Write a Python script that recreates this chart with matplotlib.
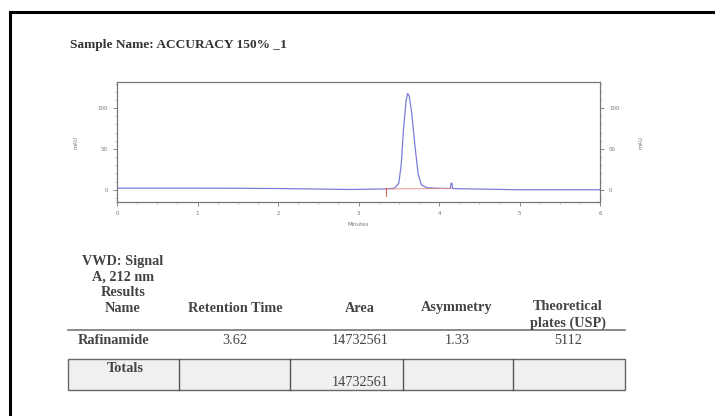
import matplotlib
matplotlib.use('Agg')
from matplotlib import pyplot as plt
from matplotlib.patches import Rectangle

# chromatogram trace (minutes, mAU)
times = [0.0, 0.5, 1.0, 1.5, 2.0, 2.4, 2.9, 3.2, 3.35, 3.45, 3.5, 3.53, 3.56, 3.59,
         3.61, 3.63, 3.66, 3.7, 3.74, 3.78, 3.85, 4.0, 4.14, 4.15, 4.16, 4.17, 4.4, 5.0, 6.0]
signal = [2.0, 2.0, 2.0, 1.8, 1.5, 1.0, 0.3, 0.8, 1.0, 2.0, 8.0, 30.0, 75.0, 108.0,
          118.0, 115.0, 95.0, 55.0, 20.0, 6.0, 2.5, 1.8, 1.5, 8.0, 8.0, 1.5, 1.0, 0.0, 0.0]
# integration baseline + start marker
base_t = [3.34, 4.15]
base_v = [1.0, 1.5]
marker_t = [3.34, 3.34]
marker_v = [2.0, -8.0]

title = 'Sample Name: ACCURACY 150% _1'
headers = ['VWD: Signal\nA, 212 nm\nResults\nName', 'Retention Time', 'Area',
           'Asymmetry', 'Theoretical\nplates (USP)']
row = ['Rafinamide', '3.62', '14732561', '1.33', '5112']
totals = ['Totals', '', '14732561', '', '']

serif = 'Liberation Serif'
fs = 10.3
txt = '#444444'
fig = plt.figure(figsize=(7.15, 4.16), dpi=100)

# overlay in pixel coords for frame, title and table
ov = fig.add_axes([0, 0, 1, 1])
ov.set_xlim(0, 715)
ov.set_ylim(416, 0)
ov.axis('off')
ov.plot([10, 715], [12, 12], color='black', lw=2.2)
ov.plot([10, 10], [12, 416], color='black', lw=2.2)
ov.text(70, 45, title, family=serif, weight='bold', fontsize=9.6, color='#333333', va='center')

col_x = [123, 235, 360, 457, 568]
hdr_y = [285, 308, 308, 308, 315]
for x, y, h in zip(col_x, hdr_y, headers):
    ov.text(x, y, h, family=serif, weight='bold', fontsize=fs, color=txt,
            ha='center', va='center', linespacing=1.25)
ov.plot([68, 625], [330, 330], color='#777777', lw=1.2)
for i, (x, v) in enumerate(zip(col_x, row)):
    ov.text(x - (10 if i == 0 else 0), 340, v, family=serif, fontsize=fs, color=txt,
            weight='bold' if i == 0 else 'normal', ha='center', va='center')

ov.add_patch(Rectangle((68, 359), 557, 31, facecolor='#f0f0f0', edgecolor='#666666', lw=1))
for x in [179, 290, 403, 513]:
    ov.plot([x, x], [359, 390], color='#555555', lw=1)
ov.text(125, 368, totals[0], family=serif, weight='bold', fontsize=fs, color=txt,
        ha='center', va='center')
ov.text(360, 382, totals[2], family=serif, fontsize=fs, color=txt, ha='center', va='center')

# chromatogram axes
ax = fig.add_axes([117 / 715, (416 - 202) / 416, 483 / 715, 120 / 416])
ax.plot(times, signal, color='#7b7bdc', lw=0.9)
ax.plot(base_t, base_v, color='#e08a7a', lw=0.6)
ax.plot(marker_t, marker_v, color='#d86a5a', lw=0.8)
ax.set_xlim(0, 6)
ax.set_ylim(-15, 132)
ax.set_xticks(range(7))
ax.set_xticks([i * 0.25 for i in range(25)], minor=True)
ax.set_yticks([0, 50, 100])
ax.set_yticks(range(-10, 131, 10), minor=True)
ax.tick_params(axis='both', labelsize=4, colors='#777777', length=3, width=0.6)
ax.tick_params(axis='both', which='minor', length=1.5, width=0.4, colors='#999999')
ax.set_xlabel('Minutes', fontsize=4, color='#777777', labelpad=1)
ax.xaxis.set_label_coords(0.5, -0.17)
ax.set_ylabel('mAU', fontsize=4, color='#777777', labelpad=14)
for s in ax.spines.values():
    s.set_color('#777777')
    s.set_linewidth(0.9)

ax2 = ax.twinx()
ax2.set_ylim(-15, 132)
ax2.set_yticks([0, 50, 100])
ax2.set_yticks(range(-10, 131, 10), minor=True)
ax2.tick_params(axis='y', labelsize=4, colors='#777777', length=3, width=0.6)
ax2.tick_params(axis='y', which='minor', length=1.5, width=0.4, colors='#999999')
ax2.set_ylabel('mAU', fontsize=4, color='#777777', labelpad=14)
for s in ax2.spines.values():
    s.set_visible(False)

fig.savefig('out.png', dpi=100)
